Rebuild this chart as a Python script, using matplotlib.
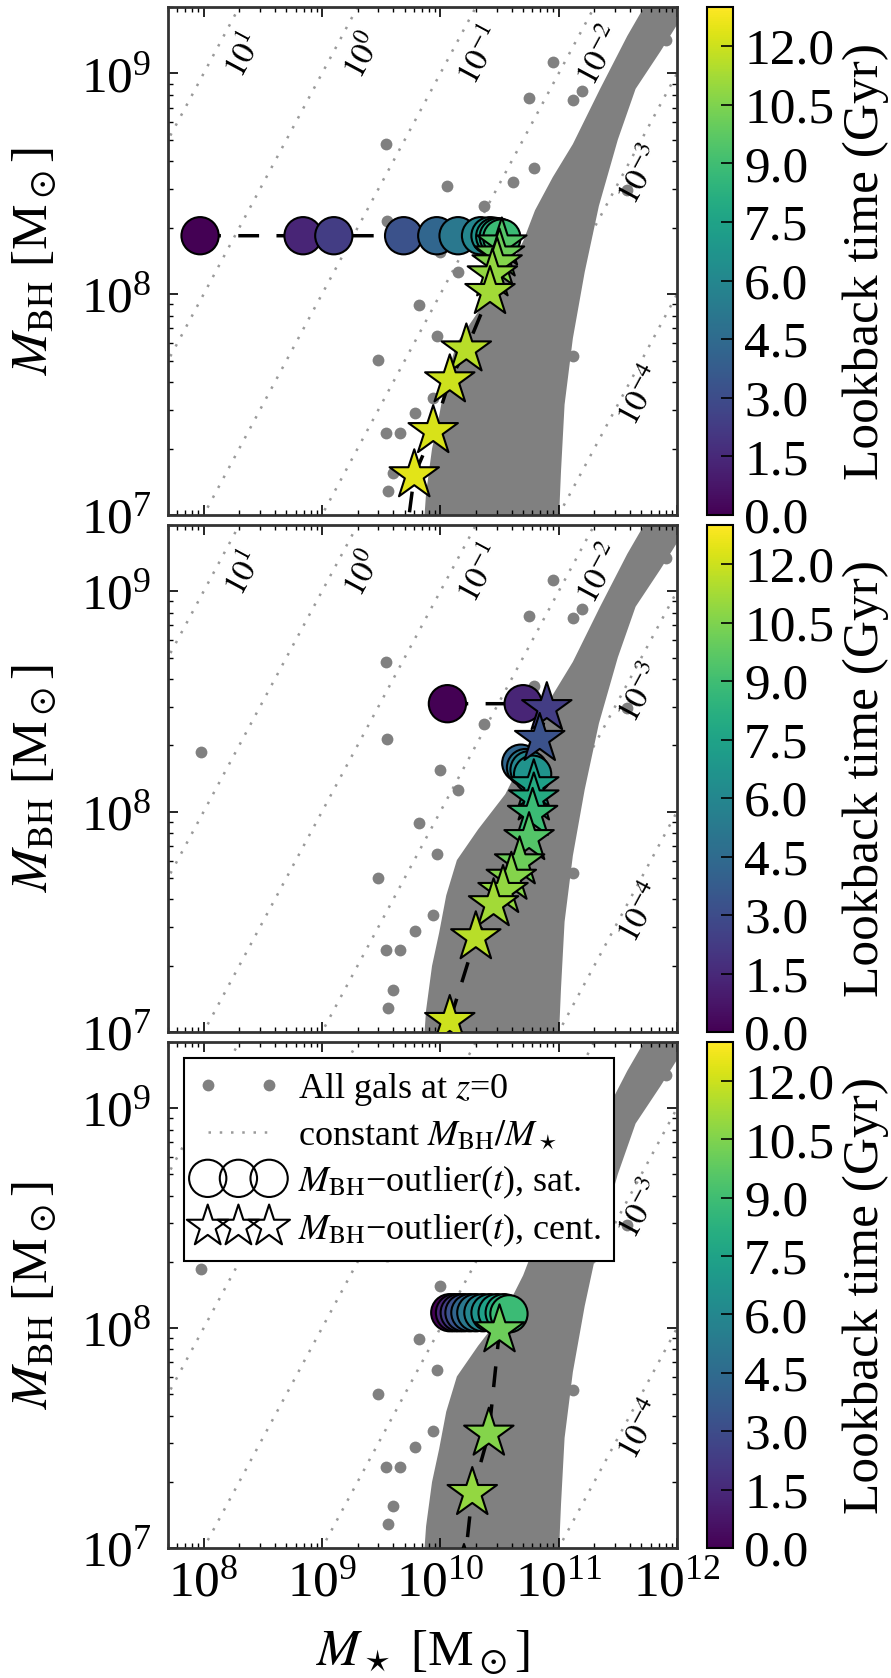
import numpy as np
import matplotlib.pyplot as plt
from matplotlib.colors import Normalize
from matplotlib.lines import Line2D
from matplotlib.ticker import LogLocator

plt.rcParams['font.family'] = ['Liberation Serif', 'DejaVu Serif']
plt.rcParams['mathtext.fontset'] = 'stix'

# ---- data (log10 values) ----
# background population at z=0 : dense band outline + isolated galaxies
band_logms = [9.86, 9.88, 9.93, 9.99, 10.05, 10.14, 10.32, 10.55, 10.70, 10.80, 10.95, 11.12, 11.35, 11.58, 11.72, 11.80,
              12.10, 12.00, 11.86, 11.65, 11.50, 11.34, 11.22, 11.12, 11.05, 11.02, 11.00]
band_logbh = [6.95, 7.10, 7.30, 7.45, 7.62, 7.78, 7.92, 8.08, 8.24, 8.38, 8.53, 8.68, 8.93, 9.17, 9.30, 9.40,
              9.40, 9.22, 9.10, 8.93, 8.70, 8.40, 8.10, 7.80, 7.50, 7.20, 6.95]
dots_logms = [9.54, 10.06, 10.75, 9.82, 9.47, 9.54, 9.66, 9.56, 9.55, 7.98, 10.00, 9.60, 9.79,
              11.12, 10.95, 11.12, 11.20, 11.58, 11.91, 10.37, 10.61, 10.79, 10.15, 9.97, 9.94]
dots_logbh = [8.68, 8.49, 8.89, 7.95, 7.70, 7.37, 7.37, 7.11, 8.33, 8.27, 8.19, 7.19, 7.46,
              7.72, 9.05, 8.88, 8.92, 8.47, 9.15, 8.40, 8.51, 8.57, 8.10, 7.81, 7.53]

ratio_exp = [1, 0, -1, -2, -3, -4]

# panel 1 track
p1_sat_t = [0.0, 1.34, 2.32, 3.29, 4.26, 5.19, 5.97, 6.70, 7.38, 7.93, 8.86]
p1_sat_logms = [7.97, 8.84, 9.10, 9.69, 9.97, 10.15, 10.34, 10.42, 10.46, 10.49, 10.52]
p1_sat_logbh = [8.265, 8.265, 8.265, 8.265, 8.265, 8.265, 8.265, 8.265, 8.262, 8.26, 8.255]
p1_cen_t = [9.50, 10.1, 10.6, 10.9, 11.2, 11.6, 12.0, 12.2, 12.4, 12.6]
p1_cen_logms = [10.52, 10.50, 10.48, 10.44, 10.42, 10.22, 10.08, 9.94, 9.78, 9.70]
p1_cen_logbh = [8.23, 8.18, 8.14, 8.09, 8.01, 7.75, 7.61, 7.38, 7.18, 6.85]

# panel 2 track
p2_sat_t = [0.0, 1.34, 4.26, 5.19, 5.97, 6.70]
p2_sat_logms = [10.06, 10.70, 10.68, 10.72, 10.75, 10.78]
p2_sat_logbh = [8.49, 8.49, 8.22, 8.20, 8.19, 8.17]
p2_cen_t = [2.32, 3.29, 7.38, 7.93, 8.86, 9.50, 10.1, 10.6, 10.9, 11.2, 11.6, 12.0, 12.2]
p2_cen_logms = [10.90, 10.84, 10.79, 10.79, 10.78, 10.75, 10.67, 10.60, 10.53, 10.45, 10.30, 10.08, 10.03]
p2_cen_logbh = [8.47, 8.33, 8.12, 8.06, 7.99, 7.88, 7.77, 7.70, 7.64, 7.58, 7.43, 7.05, 6.85]

# panel 3 track
p3_sat_t = [0.0, 1.34, 2.32, 3.29, 4.26, 5.19, 5.97, 6.70, 7.38, 7.93, 8.86]
p3_sat_logms = [10.08, 10.12, 10.16, 10.20, 10.25, 10.30, 10.36, 10.42, 10.48, 10.54, 10.58]
p3_sat_logbh = [8.07, 8.07, 8.07, 8.07, 8.07, 8.07, 8.07, 8.07, 8.07, 8.07, 8.065]
p3_cen_t = [10.1, 10.6, 10.9, 11.2]
p3_cen_logms = [10.50, 10.41, 10.27, 10.20]
p3_cen_logbh = [7.99, 7.52, 7.25, 6.90]

tracks = [
    (p1_sat_t, p1_sat_logms, p1_sat_logbh, p1_cen_t, p1_cen_logms, p1_cen_logbh),
    (p2_sat_t, p2_sat_logms, p2_sat_logbh, p2_cen_t, p2_cen_logms, p2_cen_logbh),
    (p3_sat_t, p3_sat_logms, p3_sat_logbh, p3_cen_t, p3_cen_logms, p3_cen_logbh),
]

FS = 37
norm = Normalize(0, 13)
cmap = plt.get_cmap('viridis')

fig = plt.figure(figsize=(8.91, 16.78), dpi=100)
W, H = 891.0, 1678.0
panels = [(7, 515), (525, 1032), (1042, 1548)]
xlo, xhi, ylo, yhi = 5e7, 1e12, 1e7, 2e9

for i, (top, bot) in enumerate(panels):
    ax = fig.add_axes([168 / W, 1 - bot / H, 509 / W, (bot - top) / H])
    cax = fig.add_axes([707 / W, 1 - bot / H, 26 / W, (bot - top) / H])

    # angle of a slope-1 line on screen
    ang = np.degrees(np.arctan2((bot - top) / np.log10(yhi / ylo), 509 / np.log10(xhi / xlo)))

    # background galaxies
    ax.fill(10 ** np.array(band_logms), 10 ** np.array(band_logbh), color='gray', lw=0, zorder=1)
    ax.plot(10 ** np.array(dots_logms), 10 ** np.array(dots_logbh), 'o', color='gray', ms=8.5, mec='none', zorder=1)

    # constant ratio lines
    xx = np.logspace(7, 13, 50)
    for e in ratio_exp:
        ax.plot(xx, xx * 10.0 ** e, color='#9a9a9a', lw=1.8, ls=(0, (1, 3.5)), zorder=0.5)
        if e >= -2:
            ly = 9.08
            lx = ly - e + 0.27
        else:
            lx = 11.70
            ly = lx + e - 0.16
        ax.text(10 ** lx, 10 ** ly, r'$10^{%d}$' % e, rotation=ang, fontsize=24,
                ha='center', va='center', zorder=2, rotation_mode='anchor')

    st, sms, sbh, ct, cms, cbh = tracks[i]
    allt = np.array(st + ct)
    allms = np.array(sms + cms)
    allbh = np.array(sbh + cbh)
    order = np.argsort(allt)
    ax.plot(10 ** allms[order], 10 ** allbh[order], color='k', ls='--', dashes=(6, 5), lw=2.5, zorder=3)
    ax.scatter(10 ** np.array(sms), 10 ** np.array(sbh), c=st, cmap=cmap, norm=norm, marker='o',
               s=720, edgecolors='k', linewidths=1.5, zorder=4)
    ax.scatter(10 ** np.array(cms), 10 ** np.array(cbh), c=ct, cmap=cmap, norm=norm, marker='*',
               s=1400, edgecolors='k', linewidths=1.5, zorder=5)

    ax.set_xscale('log')
    ax.set_yscale('log')
    ax.set_xlim(xlo, xhi)
    ax.set_ylim(ylo, yhi)
    ax.xaxis.set_major_locator(LogLocator(base=10, numticks=20))
    ax.xaxis.set_minor_locator(LogLocator(base=10, subs=np.arange(2, 10), numticks=20))
    ax.tick_params(which='both', direction='in', top=True, right=True, labelsize=FS)
    ax.tick_params(which='major', length=7, width=1.2)
    ax.tick_params(which='minor', length=3.5, width=1.0)
    ax.tick_params(axis='y', pad=12)
    ax.tick_params(axis='x', pad=9)
    for sp in ax.spines.values():
        sp.set_linewidth(2.0)
        sp.set_color('#333333')
    ax.set_ylabel(r'$M_{\rm BH}$ [M$_\odot$]', fontsize=FS)
    ax.yaxis.set_label_coords(-0.215, 0.5)
    if i < 2:
        ax.tick_params(labelbottom=False)
    else:
        ax.set_xlabel(r'$M_\star$ [M$_\odot$]', fontsize=FS)
        ax.xaxis.set_label_coords(0.5, -0.16)
        h_dots = Line2D([], [], ls='none', marker='o', color='gray', ms=8.5, mec='none')
        h_line = Line2D([], [], color='#9a9a9a', lw=1.8, ls=(0, (1, 3.5)))
        h_sat = ax.scatter([], [], marker='o', s=720, facecolors='none', edgecolors='k', linewidths=1.5)
        h_cen = ax.scatter([], [], marker='*', s=1000, facecolors='none', edgecolors='k', linewidths=1.5)
        leg = ax.legend([h_dots, h_line, h_sat, h_cen],
                        ['All gals at $z$=0', r'constant $M_{\rm BH}/M_\star$',
                         '$M_{\\rm BH}$\u2212outlier($t$), sat.', '$M_{\\rm BH}$\u2212outlier($t$), cent.'],
                        loc='upper left', fontsize=26, numpoints=2, scatterpoints=3, scatteryoffsets=[0.5],
                        fancybox=False, framealpha=1, edgecolor='k', handlelength=2.3,
                        borderaxespad=0.45, labelspacing=0.3, handletextpad=0.5, borderpad=0.35)
        leg.get_frame().set_linewidth(1.5)
        leg.set_zorder(10)

    sm = plt.cm.ScalarMappable(norm=norm, cmap=cmap)
    cb = fig.colorbar(sm, cax=cax, ticks=np.arange(0, 12.01, 1.5), format='%.1f')
    cb.ax.tick_params(direction='in', length=9, width=1.2, labelsize=FS, pad=8)
    cb.outline.set_linewidth(1.5)
    cb.set_label('Lookback time (Gyr)', fontsize=FS)
    cb.ax.yaxis.set_label_coords(5.2, 0.5)

fig.savefig('out.png', dpi=100)
